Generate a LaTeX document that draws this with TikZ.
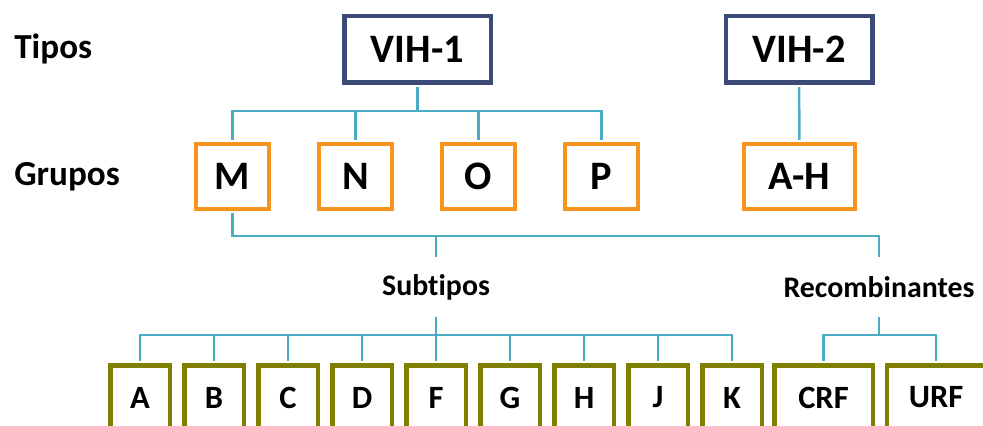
\documentclass[tikz,border=0pt]{standalone}
\usepackage{fontspec}
\setmainfont{Carlito}[Ligatures=NoCommon]
\usetikzlibrary{calc}
\definecolor{navyb}{HTML}{3C4A78}
\definecolor{orangeb}{HTML}{F7941D}
\definecolor{oliveb}{HTML}{808000}
\definecolor{linkb}{HTML}{4BACC6}
\tikzstyle{tipo}=[rectangle,draw=navyb,line width=0.09cm,fill=white,minimum width=2.93cm,minimum height=1.33cm,inner sep=0pt,font=\fontsize{23}{23}\selectfont\bfseries]
\tikzstyle{grupo}=[rectangle,draw=orangeb,line width=0.08cm,fill=white,minimum width=1.46cm,minimum height=1.30cm,inner sep=0pt,font=\fontsize{23}{23}\selectfont\bfseries]
\tikzstyle{subtipo}=[rectangle,draw=oliveb,line width=0.09cm,fill=white,minimum width=1.19cm,minimum height=1.29cm,inner sep=0pt,font=\fontsize{18.5}{18.5}\selectfont\bfseries]
\tikzstyle{etiqueta}=[inner sep=0pt,font=\fontsize{20}{20}\selectfont\bfseries]
\tikzstyle{rotulo}=[inner sep=0pt,minimum height=1.08cm,font=\fontsize{17}{17}\selectfont\bfseries]
\tikzstyle{rama}=[draw=linkb,line width=0.05cm,shorten <=0.045cm,shorten >=0.045cm]

\begin{document}
\begin{tikzpicture}
\useasboundingbox (0,0) rectangle (19.66,-8.52);
\def \gdist {2.46};
\def \reldist {1.48};
\def \fila {-7.95};

% tipos
\node[etiqueta,anchor=base west] (lt) at (0.28,-1.18) {Tipos};
\node[tipo] (V1) at (8.35,-0.99) {VIH-1};
\node[tipo] (V2) at (15.98,-0.99) {VIH-2};

% grupos
\node[etiqueta,anchor=base west] (lg) at (0.28,-3.72) {Grupos};
\foreach \g [count=\i] in {M,N,O,P} {
	\node[grupo] (G\i) at ({4.65+(\i-1)*\gdist}, -3.53) {\g};
	\draw[rama] (G\i.north) -- ++(0,0.62) -| (V1.south);
};
\node[grupo,minimum width=2.22cm] (AH) at (15.99,-3.53) {A-H};
\draw[rama] (V2) -- (AH);

% subtipos y recombinantes
\node[rotulo] (sub) at (8.72,-5.74) {Subtipos};
\node[rotulo] (rec) at (17.58,-5.74) {Recombinantes};
\draw[rama] (G1.south) -- ++(0,-0.5) -| (sub.north);
\draw[rama] (G1.south) -- ++(0,-0.5) -| (rec.north);

\foreach \s [count=\i] in {A,B,C,D,F,G,H,J,K} {
	\node[subtipo] (S\i) at ({1.32+\i*\reldist}, \fila) {\s};
	\draw[rama] (S\i.north) -- ++(0,0.565) -| (sub.south);
};

\node[subtipo,minimum width=1.97cm] (CRF) at (16.47,\fila) {CRF};
\node[subtipo,minimum width=1.97cm] (URF) at (18.72,\fila) {URF};
\foreach \r in {CRF,URF} {
	\draw[rama] (\r.north) -- ++(0,0.565) -| (rec.south);
};

\end{tikzpicture}
\end{document}
